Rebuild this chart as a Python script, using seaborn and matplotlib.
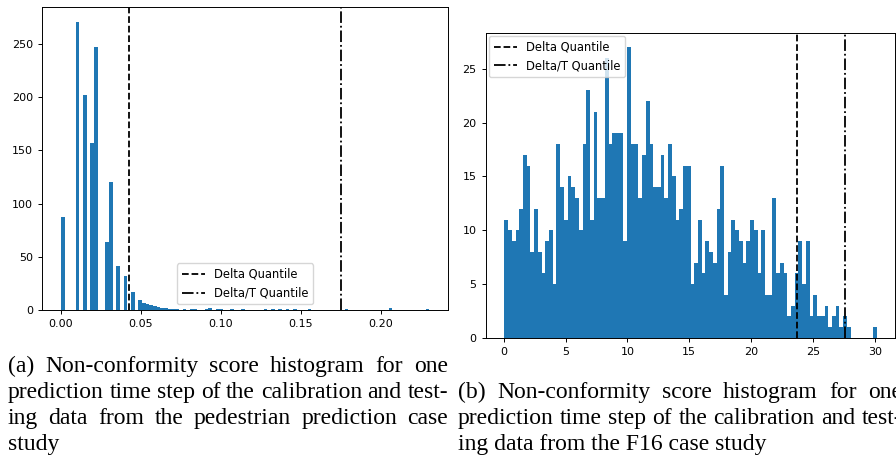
import seaborn as sns
import numpy as np
import pandas as pd
import matplotlib.pyplot as plt

# pedestrian case: 100 bins over [0, 0.2302], only the non-empty bins listed
ped_lo, ped_hi = 0.0, 0.2302
ped_bin = [0, 4, 6, 8, 9, 12, 13, 15, 17, 19, 21, 22, 23, 24, 25, 26, 27, 28, 29, 30,
           31, 33, 35, 36, 39, 40, 42, 43, 46, 49, 55, 57, 59, 61, 63, 67, 77, 89, 99]
ped_count = [87, 271, 202, 157, 247, 64, 120, 41, 32, 17, 9, 7, 6, 5, 4, 3, 2, 2, 1, 1,
             1, 1, 1, 1, 1, 2, 1, 1, 1, 1, 1, 1, 1, 1, 1, 1, 1, 2, 1]
ped_delta_q = 0.0425
ped_delta_t_q = 0.1748

# F16 case: 100 bins over [0.05, 30.15]
f16_lo, f16_hi = 0.05, 30.15
f16_count = [11, 10, 9, 10, 12, 17, 16, 8, 12, 8,
             6, 9, 10, 5, 18, 14, 11, 15, 14, 13,
             10, 18, 23, 11, 21, 13, 13, 26, 18, 19,
             19, 19, 9, 27, 18, 18, 13, 17, 22, 18,
             14, 14, 17, 13, 18, 15, 11, 12, 16, 16,
             5, 7, 11, 6, 9, 8, 7, 12, 16, 4,
             8, 11, 10, 9, 7, 9, 11, 10, 6, 10,
             4, 4, 13, 6, 7, 6, 2, 3, 6, 9,
             5, 9, 2, 4, 2, 2, 3, 1, 2, 3,
             1, 2, 1, 0, 0, 0, 0, 0, 0, 1]
f16_delta_q = 23.71
f16_delta_t_q = 27.61

cap_a = ["(a) Non-conformity score histogram for one",
         "prediction time step of the calibration and test-",
         "ing data from the pedestrian prediction case",
         "study"]
cap_b = ["(b) Non-conformity score histogram for one",
         "prediction time step of the calibration and test-",
         "ing data from the F16 case study"]

W, H = 896, 458
fig = plt.figure(figsize=(W / 100, H / 100), dpi=100)


def px_axes(l, t, r, b):
    return fig.add_axes([l / W, 1 - b / H, (r - l) / W, (b - t) / H])


def draw_hist(ax, lo, hi, bins, counts):
    step = (hi - lo) / 100
    centers = lo + (np.asarray(bins) + 0.5) * step
    df = pd.DataFrame({'score': centers, 'n': np.asarray(counts, dtype=float)})
    sns.histplot(data=df, x='score', weights='n', bins=100, binrange=(lo, hi),
                 ax=ax, color='#1f77b4', alpha=1, linewidth=0)
    ax.set_ylabel('')
    ax.set_xlabel('')
    ax.tick_params(labelsize=8, length=3, width=0.7)
    for s in ax.spines.values():
        s.set_linewidth(0.7)


ax1 = px_axes(42.3, 7.3, 448, 310)
draw_hist(ax1, ped_lo, ped_hi, ped_bin, ped_count)
ax1.axvline(ped_delta_q, color='k', ls='--', lw=1.3, label='Delta Quantile')
ax1.axvline(ped_delta_t_q, color='k', ls='-.', lw=1.3, label='Delta/T Quantile')
ax1.set_xlim(-0.0117, 0.2419)
ax1.set_ylim(0, 284.5)
ax1.set_xticks([0, 0.05, 0.10, 0.15, 0.20])
ax1.set_xticklabels(['0.00', '0.05', '0.10', '0.15', '0.20'])
ax1.set_yticks([0, 50, 100, 150, 200, 250])
ax1.legend(loc='lower center', fontsize=8.3)

ax2 = px_axes(485.7, 32.7, 895.3, 338)
draw_hist(ax2, f16_lo, f16_hi, np.arange(100), f16_count)
ax2.axvline(f16_delta_q, color='k', ls='--', lw=1.3, label='Delta Quantile')
ax2.axvline(f16_delta_t_q, color='k', ls='-.', lw=1.3, label='Delta/T Quantile')
ax2.set_xlim(-1.46, 31.66)
ax2.set_ylim(0, 28.35)
ax2.set_xticks(range(0, 31, 5))
ax2.set_yticks(range(0, 26, 5))
ax2.legend(loc='upper left', fontsize=8.3, borderaxespad=0.3)

# captions, justified like the paper (the right one runs past the page edge)
renderer = fig.canvas.get_renderer()
cap_size = 17
serif = 'Liberation Serif'


def caption_line(text, x0, x1, y, justify=True):
    if not justify:
        fig.text(x0 / W, 1 - y / H, text, fontsize=cap_size, family=serif,
                 va='baseline', ha='left')
        return
    words = text.split()
    objs = [fig.text(0, 1 - y / H, w, fontsize=cap_size, family=serif,
                     va='baseline', ha='left') for w in words]
    widths = [o.get_window_extent(renderer).width for o in objs]
    gap = (x1 - x0 - sum(widths)) / (len(words) - 1)
    x = x0
    for o, w in zip(objs, widths):
        o.set_x(x / W)
        x += w + gap


base = [372, 398, 424, 450]
for i, line in enumerate(cap_a):
    caption_line(line, 8, 448, base[i], justify=i < len(cap_a) - 1)
for i, line in enumerate(cap_b):
    caption_line(line, 458, 902, base[i + 1], justify=i < len(cap_b) - 1)

fig.savefig('out.png', dpi=100)
